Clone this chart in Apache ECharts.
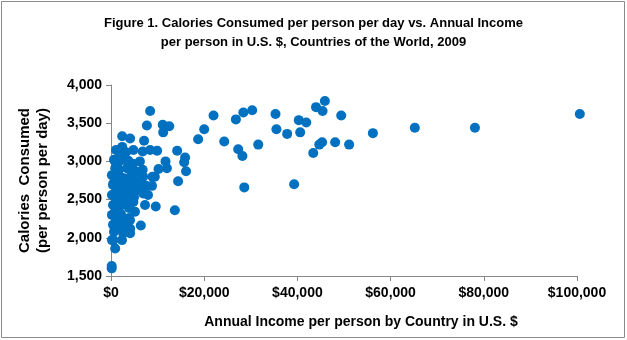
<!DOCTYPE html>
<html>
<head>
<meta charset="utf-8">
<script src="https://cdn.jsdelivr.net/npm/echarts@6/dist/echarts.min.js"></script>
<style>html,body{margin:0;padding:0;background:#fff;}#c{width:627px;height:340px;}</style>
</head>
<body>
<div id="c"></div>
<script>
// Annual income per person (US $)
var income = [
  100600, 78100, 65200, 56200, 51100, 49400, 48100, 45900, 45400, 44000,
  45300, 44700, 43400, 41900, 40300, 40600, 39300, 37800, 35500, 35300,
  31600, 30300, 28400, 26800, 27300, 28200, 28600, 24300, 22000, 20000,
  18700, 15900, 15700, 16100, 14400, 14200, 13700, 12000, 11700, 10200,
  9900, 9600, 9400, 8900, 8400, 7700, 11100, 12500, 11200, 8400,
  7100, 6800, 4800, 4100, 2400, 2400, 7300, 6900, 4800, 6400,
  3900, 4100, 4100, 2600, 900, 500, 150, 150, 3700, 6200,
  4800, 6800, 900, 1900, 4800, 6900, 500,
  200, 430, 200, 430, 200, 430, 640, 1070, 1290, 1070,
  1500, 1290, 1720, 1930, 2150, 2360, 2150, 2790, 3000, 3220,
  2790, 3430, 3650, 3860, 4290, 4510, 4940, 5370, 5790, 3430,
  2790, 1500, 640, 1930, 1070, 3220, 5580, 6010, 4720, 7510,
  7940, 8800, 5150, 2360, 1720, 3220, 200, 860, 4080
];
// Calories consumed per person per day
var calories = [
  3620, 3440, 3440, 3370, 3220, 3600, 3250, 3790, 3660, 3710,
  3250, 3220, 3110, 3510, 3540, 3380, 2700, 3360, 3420, 3620,
  3220, 3670, 3640, 3550, 3160, 3070, 2660, 3260, 3600, 3420,
  3290, 3050, 2990, 2870, 2740, 3140, 2360, 2910, 3000, 2900,
  3140, 2410, 2800, 2800, 3660, 3470, 3480, 3460, 3380, 3150,
  3270, 3130, 3150, 3300, 3330, 3190, 2430, 2580, 2470, 2160,
  2260, 2120, 2060, 2060, 1860, 1970, 1600, 1630, 3010, 3000,
  2890, 2890, 2910, 2800, 2760, 2800, 2710,
  2820, 2690, 2560, 2430, 2300, 2170, 2080, 2760, 2630, 2500,
  2360, 2230, 2890, 2680, 2550, 2430, 2310, 2780, 2630, 2500,
  2210, 2700, 2560, 2390, 2810, 2650, 2530, 2730, 2630, 2910,
  3020, 2980, 3020, 3080, 3150, 3120, 2860, 2730, 2970, 2680,
  2560, 2680, 2340, 1970, 2130, 2100, 1970, 2340, 2230
];
var xTicks = [0, 20000, 40000, 60000, 80000, 100000];
var yTicks = [1500, 2000, 2500, 3000, 3500, 4000];
var titleLines = ['Figure 1. Calories Consumed per person per day vs. Annual Income', 'per person in U.S. $, Countries of the World, 2009'];
var xName = 'Annual Income per person by Country in U.S. $';
var yName = 'Calories  Consumed\n(per person per day)';

var points = income.map(function (v, i) { return [v, calories[i]]; });
function fmt(n) { return n.toString().replace(/\B(?=(\d{3})+(?!\d))/g, ','); }

var chart = echarts.init(document.getElementById('c'), null, {renderer: 'canvas'});
var font = '"Liberation Sans", Arial, sans-serif';
chart.setOption({
  animation: false,
  backgroundColor: '#fff',
  textStyle: {fontFamily: font},
  title: {
    text: titleLines.join('\n'),
    left: 'center', top: 9,
    textStyle: {fontFamily: font, fontSize: 13, fontWeight: 'bold', color: '#000', lineHeight: 19}
  },
  graphic: [{
    type: 'rect', shape: {x: 1.5, y: 1.5, width: 623, height: 336},
    style: {fill: 'none', stroke: '#8c8c8c', lineWidth: 1}, silent: true
  }],
  grid: {left: 111, right: 50, top: 85, bottom: 64},
  xAxis: {
    type: 'value', min: xTicks[0], max: xTicks[xTicks.length - 1], interval: 20000,
    name: xName, nameLocation: 'middle', nameGap: 39,
    nameTextStyle: {fontFamily: font, fontSize: 14, fontWeight: 'bold', color: '#000', padding: [0, 0, 0, 34]},
    axisLine: {show: true, lineStyle: {color: '#868686', width: 1}},
    axisTick: {show: true, inside: false, length: 5, lineStyle: {color: '#868686'}},
    splitLine: {show: false},
    axisLabel: {fontFamily: font, fontSize: 14, fontWeight: 'bold', color: '#000', margin: 10,
      formatter: function (v) { return '$' + fmt(v); }}
  },
  yAxis: {
    type: 'value', min: yTicks[0], max: yTicks[yTicks.length - 1], interval: 500,
    name: yName, nameLocation: 'middle', nameGap: 59,
    nameTextStyle: {fontFamily: font, fontSize: 15, fontWeight: 'bold', color: '#000', lineHeight: 18},
    axisLine: {show: true, lineStyle: {color: '#868686', width: 1}},
    axisTick: {show: true, inside: false, length: 5, lineStyle: {color: '#868686'}},
    splitLine: {show: false},
    axisLabel: {fontFamily: font, fontSize: 14, fontWeight: 'bold', color: '#000', margin: 9,
      formatter: function (v) { return fmt(v); }}
  },
  series: [{
    type: 'scatter', data: points, symbol: 'circle', symbolSize: 10, clip: false,
    itemStyle: {color: '#0070C0', opacity: 1}
  }]
});
</script>
</body>
</html>
